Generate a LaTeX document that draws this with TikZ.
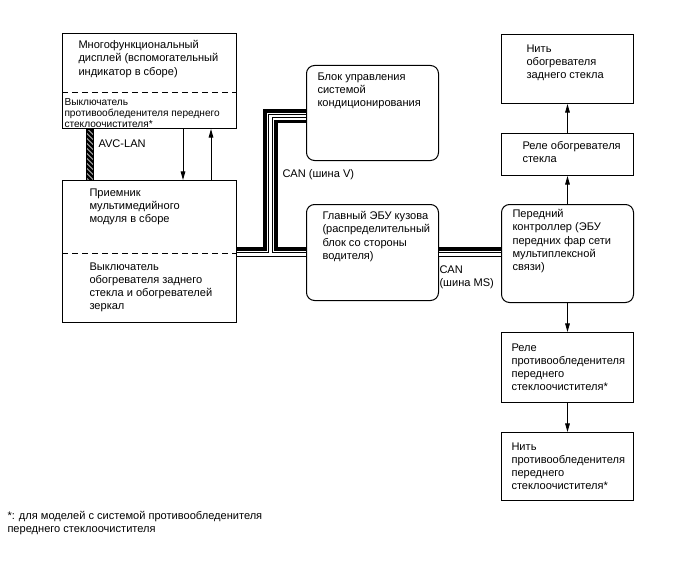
\documentclass[tikz,border=0pt]{standalone}
\usepackage{fontspec}
\setmainfont{Liberation Sans}
\usetikzlibrary{arrows.meta}
\tikzset{every picture/.style={line width=0.75pt}}
\tikzset{
  blk/.style={draw, anchor=north west, inner sep=0pt, minimum width=99pt},
  rblk/.style={blk, rounded corners=6pt},
  lbl/.style={anchor=north west, inner sep=0.75pt, align=left, font=\fontsize{8.3}{9.9}\selectfont},
  smalllbl/.style={lbl, font=\fontsize{7.6}{8.3}\selectfont},
  thickwire/.style={line width=2.4pt},
  pairwire/.style={double=white, double distance=1.8pt, line width=0.9pt},
  arr/.style={-{Triangle[length=6.5pt,width=3.5pt]}},
  sep/.style={dash pattern=on 4.5pt off 3pt},
}
\begin{document}
\begin{tikzpicture}[x=0.75pt,y=0.75pt,yscale=-1,xscale=1]
\useasboundingbox (0,0) rectangle (688,560);

%Shape: Rectangle
\node [blk, minimum width=130.5pt, minimum height=71.25pt] (mfd) at (62,33) {};
%Straight Lines
\draw [sep] (mfd.west |- 0,92) -- (mfd.east |- 0,92) ;
%Shape: Rectangle
\node [blk, minimum width=130.5pt, minimum height=106.5pt] (rcv) at (62,180) {};
%Straight Lines
\draw [sep] (rcv.west |- 0,253) -- (rcv.east |- 0,253) ;
%Shape: Rounded Rect
\node [rblk, minimum height=71.25pt] (acu) at (306,65) {};
%Shape: Rounded Rect
\node [rblk, minimum height=72pt] (bcm) at (306,204) {};
%Shape: Rounded Rect
\node [rblk, minimum height=73.5pt] (ctrl) at (501,204) {};
%Shape: Rectangle
\node [blk, minimum height=51.75pt] (heat) at (501,34) {};
%Shape: Rectangle
\node [blk, minimum height=31.5pt] (rly) at (501,133) {};
%Shape: Rectangle
\node [blk, minimum height=52.5pt] (drly) at (501,332) {};
%Shape: Rectangle
\node [blk, minimum height=51pt] (dwire) at (501,432) {};

%AVC-LAN
\begin{scope}
\clip (mfd.south -| 86,0) rectangle (rcv.north -| 93,0) ;
\draw [line width=2]  (84,118) -- (96,130) (84,123) -- (96,135) (84,128) -- (96,140) (84,133) -- (96,145) (84,138) -- (96,150) (84,143) -- (96,155) (84,148) -- (96,160) (84,153) -- (96,165) (84,158) -- (96,170) (84,163) -- (96,175) (84,168) -- (96,180) (84,173) -- (96,185) (84,178) -- (96,190) ;
\end{scope}
\draw (mfd.south -| 86,0) rectangle (rcv.north -| 93,0) ;

%CAN (V)
\draw [thickwire]  (rcv.east |- 0,249) -- (265,249) -- (265,111) -- (acu.west |- 0,111) ;
\draw [thickwire]  (acu.west |- 0,121.5) -- (276,121.5) -- (276,249) -- (bcm.west |- 0,249) ;
\draw [pairwire]  (rcv.east |- 0,254.5) -- (bcm.west |- 0,254.5) (270.5,254.5) -- (270.5,116) -- (acu.west |- 0,116) ;
%CAN (MS)
\draw [thickwire]  (bcm.east |- 0,249) -- (ctrl.west |- 0,249) ;
\draw [pairwire]  (bcm.east |- 0,254.5) -- (ctrl.west |- 0,254.5) ;

%Arrows
\draw [arr]  (mfd.south -| 183,0) -- (rcv.north -| 183,0) ;
\draw [arr]  (rcv.north -| 211,0) -- (mfd.south -| 211,0) ;
\draw [arr]  (ctrl.north) -- (rly.south) ;
\draw [arr]  (rly.north) -- (heat.south) ;
\draw [arr]  (ctrl.south) -- (drly.north) ;
\draw [arr]  (drly.south) -- (dwire.north) ;

% Text Node
\draw (77,39) node [lbl] (mfdtxt) {Многофункциональный\\дисплей (вспомогательный\\индикатор в сборе)};
% Text Node
\draw (63,97) node [smalllbl] (wdsw) {Выключатель\\противообледенителя переднего\\стеклоочистителя*};
% Text Node
\draw (88,187) node [lbl] (rcvtxt) {Приемник\\мультимедийного\\модуля в сборе};
% Text Node
\draw (88,261) node [lbl] (htsw) {Выключатель\\обогревателя заднего\\стекла и обогревателей\\зеркал};
% Text Node
\draw (316,71) node [lbl] (acutxt) {Блок управления\\системой\\кондиционирования};
% Text Node
\draw (321,210) node [lbl] (bcmtxt) {Главный ЭБУ кузова\\(распределительный\\блок со стороны\\водителя)};
% Text Node
\draw (511,208) node [lbl] (ctrltxt) {Передний\\контроллер (ЭБУ\\передних фар сети\\мультиплексной\\связи)};
% Text Node
\draw (525,43) node [lbl] (heattxt) {Нить\\обогревателя\\заднего стекла};
% Text Node
\draw (521,140) node [lbl] (rlytxt) {Реле обогревателя\\стекла};
% Text Node
\draw (510,342) node [lbl] (drlytxt) {Реле\\противообледенителя\\переднего\\стеклоочистителя*};
% Text Node
\draw (510,441) node [lbl] (dwiretxt) {Нить\\противообледенителя\\переднего\\стеклоочистителя*};
% Text Node
\draw (97,138) node [lbl] (avc) {AVC-LAN};
% Text Node
\draw (281,168) node [lbl] (canv) {CAN (шина V)};
% Text Node
\draw (438,264) node [lbl] (canms) {CAN\\(шина MS)};
% Text Node
\draw (6,510) node [lbl] (note) {*: для моделей с системой противообледенителя\\переднего стеклоочистителя};

\end{tikzpicture}
\end{document}
